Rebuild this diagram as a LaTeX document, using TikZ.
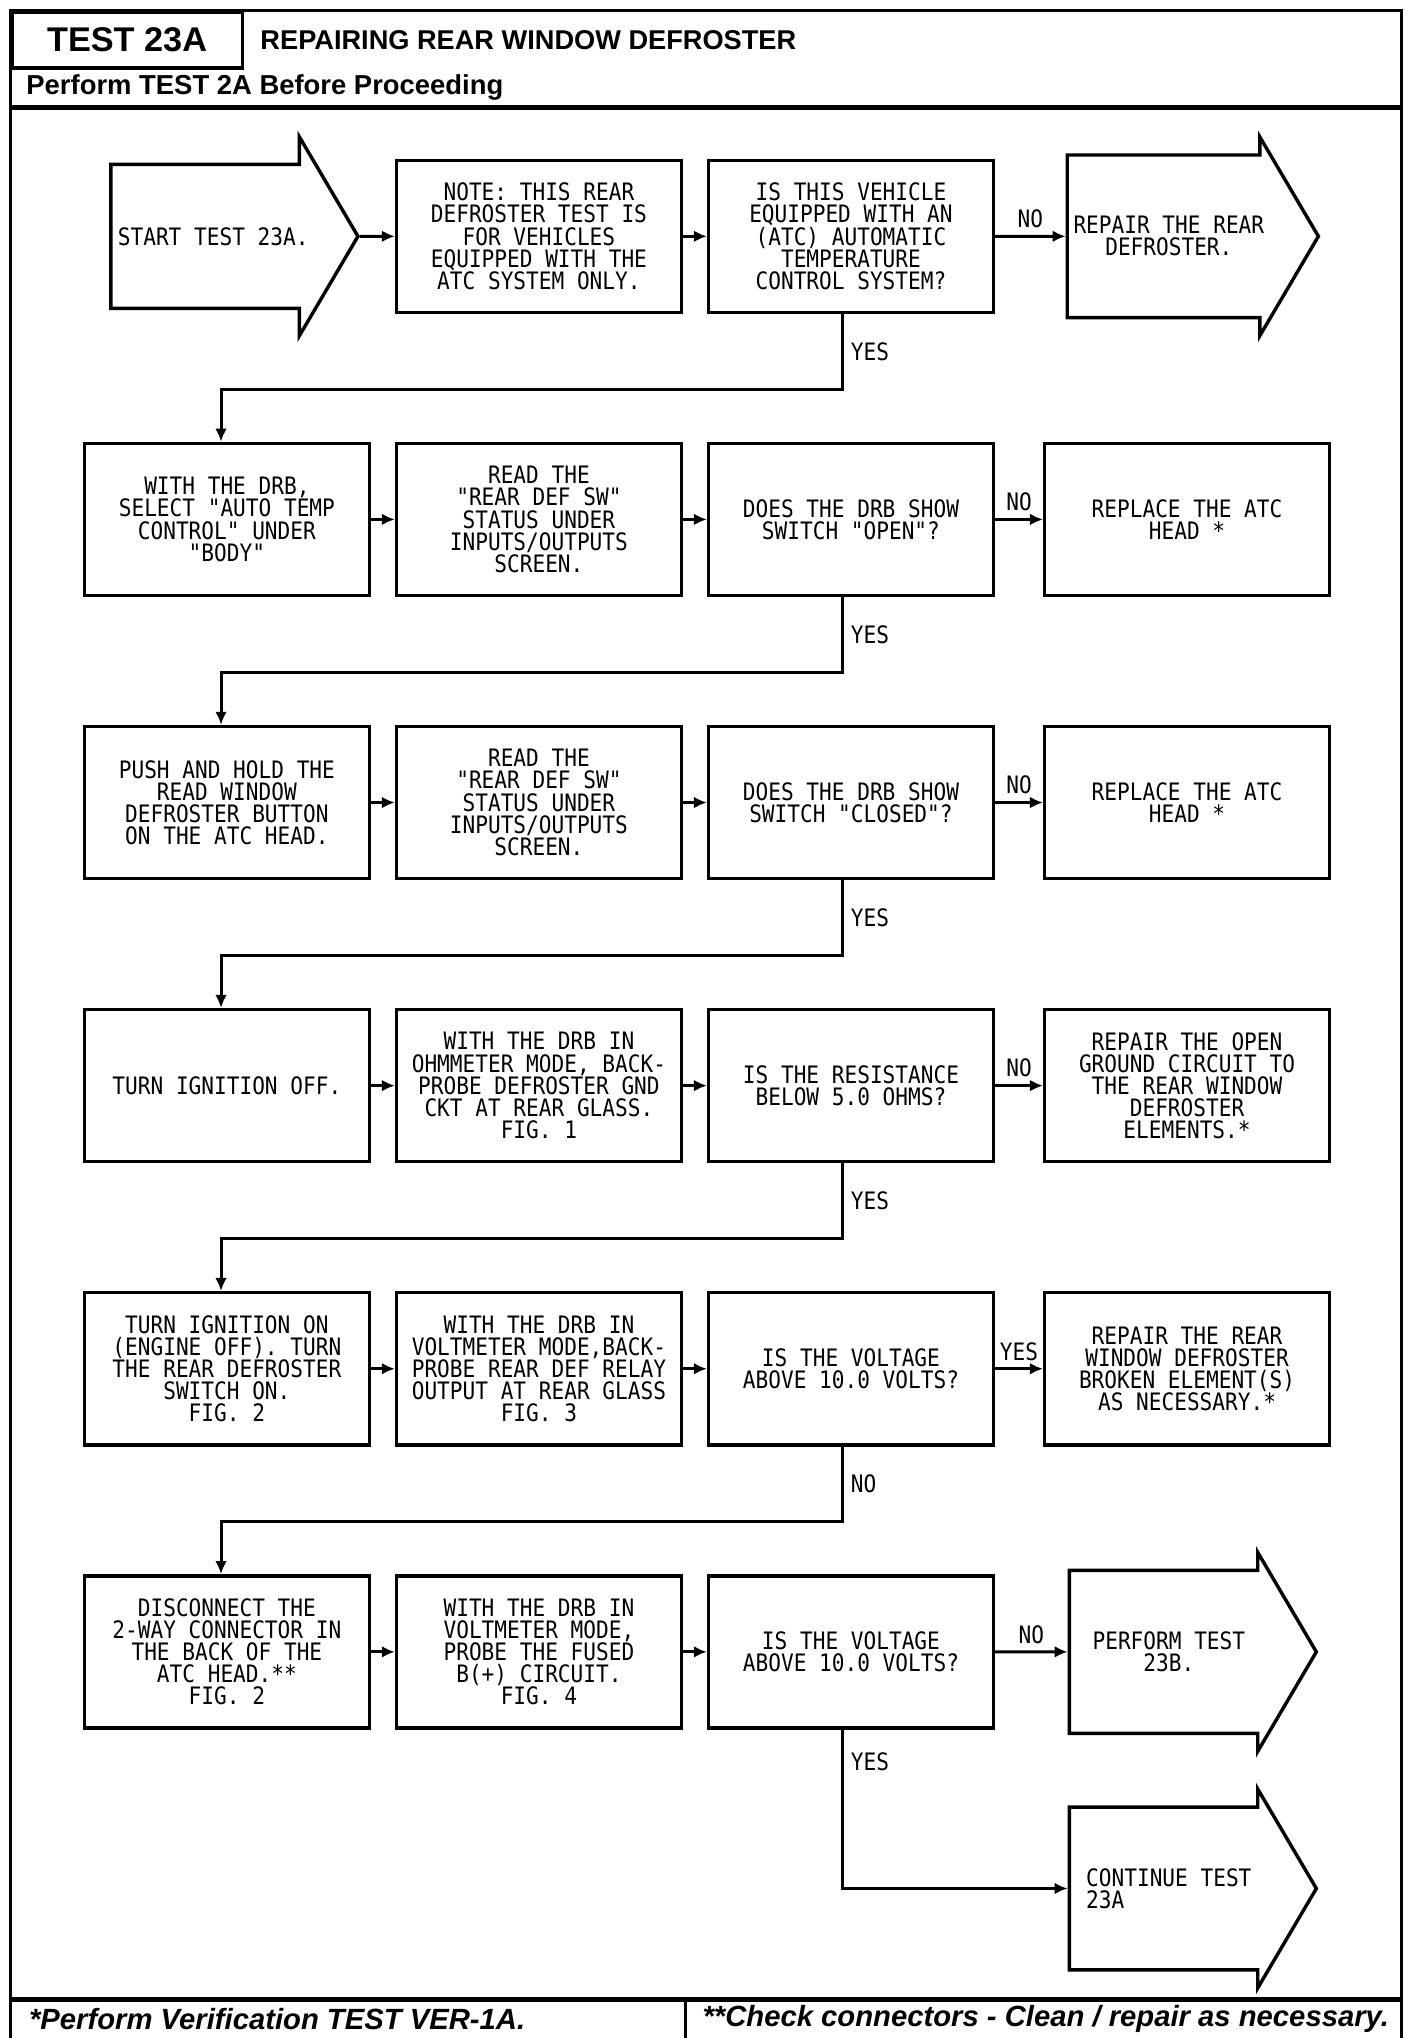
\documentclass[tikz,border=0pt]{standalone}
\usepackage{fontspec}
\usetikzlibrary{shapes.arrows,arrows.meta}
\newfontfamily\flowfont[FakeStretch=0.88]{DejaVu Sans Mono}
\newfontfamily\headfont{Liberation Sans}
\tikzset{
  stepbox/.style={draw, line width=1.5pt, rectangle, minimum width=4.38cm, minimum height=2.34cm,
    align=center, inner sep=2pt, font=\flowfont\fontsize{10.5}{9.7}\selectfont},
  arrowbox/.style={draw, line width=1.5pt, single arrow, minimum height=3.8cm, minimum width=3.06cm,
    single arrow head extend=0.09cm, single arrow tip angle=119, align=center, inner sep=2pt,
    font=\flowfont\fontsize{10.5}{9.7}\selectfont},
  flow/.style={line width=1.3pt, -{Latex[length=2mm,width=1.8mm]}},
  tag/.style={inner sep=3pt, font=\flowfont\fontsize{10.5}{9.7}\selectfont}
}
\begin{document}
\begin{tikzpicture}
    \useasboundingbox (0,0) rectangle (21.66,-31.35);
    % frame and header
    \draw[line width=1.4pt] (0.16,-0.16) rectangle (21.56,-31.8);
    \node[draw, line width=1.4pt, anchor=north west, minimum width=3.54cm, minimum height=0.86cm,
      font=\headfont\bfseries\fontsize{15}{15}\selectfont] (test) at (0.16,-0.16) {TEST 23A};
    \node[anchor=west, inner sep=0, font=\headfont\bfseries\fontsize{11.9}{12}\selectfont] (title) at (4.0,-0.62) {REPAIRING REAR WINDOW DEFROSTER};
    \node[anchor=west, inner sep=0, font=\headfont\bfseries\fontsize{12}{12}\selectfont] (pre) at (0.4,-1.34) {Perform TEST 2A Before Proceeding};
    \draw[line width=2.2pt] (0.16,-1.66) -- (21.56,-1.66);
    \draw[line width=2.4pt] (0.16,-30.76) -- (21.56,-30.76);
    \draw[line width=1.4pt] (10.54,-30.76) -- (10.54,-31.8);
    \node[anchor=west, inner sep=0, font=\headfont\bfseries\itshape\fontsize{12.8}{13}\selectfont] (foot1) at (0.44,-31.06) {*Perform Verification TEST VER-1A.};
    \node[anchor=west, inner sep=0, font=\headfont\bfseries\itshape\fontsize{12.8}{13}\selectfont] (foot2) at (10.8,-31.06) {**Check connectors - Clean / repair as necessary.};
    % flow chart
    \matrix[ampersand replacement=\&, column sep={4.8cm,between origins}, row sep={4.355cm,between origins},
      matrix anchor=drb.center] at (3.49,-7.99)
    {
    \node[arrowbox,xshift=-.21cm](start){START TEST 23A.}; \&
    \node[stepbox](note){NOTE: THIS REAR\\DEFROSTER TEST IS\\FOR VEHICLES\\EQUIPPED WITH THE\\ATC SYSTEM ONLY.}; \&
    \node[stepbox](atc){IS THIS VEHICLE\\EQUIPPED WITH AN\\(ATC) AUTOMATIC\\TEMPERATURE\\CONTROL SYSTEM?}; \&[.37cm]
    \node[arrowbox,xshift=-.28cm](rep1){REPAIR THE REAR\\DEFROSTER.}; \\
    \node[stepbox](drb){WITH THE DRB,\\SELECT "AUTO TEMP\\CONTROL" UNDER\\"BODY"}; \&
    \node[stepbox](read1){READ THE\\"REAR DEF SW"\\STATUS UNDER\\INPUTS/OUTPUTS\\SCREEN.}; \&
    \node[stepbox](open){DOES THE DRB SHOW\\SWITCH "OPEN"?}; \&
    \node[stepbox](head1){REPLACE THE ATC\\HEAD *}; \\
    \node[stepbox](push){PUSH AND HOLD THE\\READ WINDOW\\DEFROSTER BUTTON\\ON THE ATC HEAD.}; \&
    \node[stepbox](read2){READ THE\\"REAR DEF SW"\\STATUS UNDER\\INPUTS/OUTPUTS\\SCREEN.}; \&
    \node[stepbox](closed){DOES THE DRB SHOW\\SWITCH "CLOSED"?}; \&
    \node[stepbox](head2){REPLACE THE ATC\\HEAD *}; \\
    \node[stepbox](off){TURN IGNITION OFF.}; \&
    \node[stepbox](ohm){WITH THE DRB IN\\OHMMETER MODE, BACK-\\PROBE DEFROSTER GND\\CKT AT REAR GLASS.\\FIG. 1}; \&
    \node[stepbox](res){IS THE RESISTANCE\\BELOW 5.0 OHMS?}; \&
    \node[stepbox](gnd){REPAIR THE OPEN\\GROUND CIRCUIT TO\\THE REAR WINDOW\\DEFROSTER\\ELEMENTS.*}; \\
    \node[stepbox](on){TURN IGNITION ON\\(ENGINE OFF). TURN\\THE REAR DEFROSTER\\SWITCH ON.\\FIG. 2}; \&
    \node[stepbox](volt1){WITH THE DRB IN\\VOLTMETER MODE,BACK-\\PROBE REAR DEF RELAY\\OUTPUT AT REAR GLASS\\FIG. 3}; \&
    \node[stepbox](v1){IS THE VOLTAGE\\ABOVE 10.0 VOLTS?}; \&
    \node[stepbox](elem){REPAIR THE REAR\\WINDOW DEFROSTER\\BROKEN ELEMENT(S)\\AS NECESSARY.*}; \\
    \node[stepbox](disc){DISCONNECT THE\\2-WAY CONNECTOR IN\\THE BACK OF THE\\ATC HEAD.**\\FIG. 2}; \&
    \node[stepbox](volt2){WITH THE DRB IN\\VOLTMETER MODE,\\PROBE THE FUSED\\B(+) CIRCUIT.\\FIG. 4}; \&
    \node[stepbox](v2){IS THE VOLTAGE\\ABOVE 10.0 VOLTS?}; \&
    \node[arrowbox,xshift=-.28cm](t23b){PERFORM TEST\\23B.}; \\[-.715cm]
    \& \& \& \node[arrowbox,align=left,xshift=-.28cm](cont){CONTINUE TEST\\23A}; \\
    };
    % connectors
    \foreach \a/\b in {start/note, note/atc, drb/read1, read1/open, push/read2, read2/closed,
      off/ohm, ohm/res, on/volt1, volt1/v1, disc/volt2, volt2/v2}
      \draw[flow] (\a) -- (\b);
    \foreach \a/\b/\t in {atc/rep1/NO, open/head1/NO, closed/head2/NO, res/gnd/NO, v1/elem/YES, v2/t23b/NO}
      \draw[flow] (\a) -- (\b) node[tag,midway,above]{\t};
    \foreach \a/\b/\t in {atc/drb/YES, open/push/YES, closed/off/YES, res/on/YES, v1/disc/NO}
      \draw[flow] ([xshift=-.13cm]\a.south) -- ++(0,-1.16) node[tag,midway,right]{\t} -| ([xshift=-.09cm]\b.north);
    \draw[flow] ([xshift=-.13cm]v2.south) |- (cont) node[tag,pos=.1,right]{YES};
\end{tikzpicture}
\end{document}
